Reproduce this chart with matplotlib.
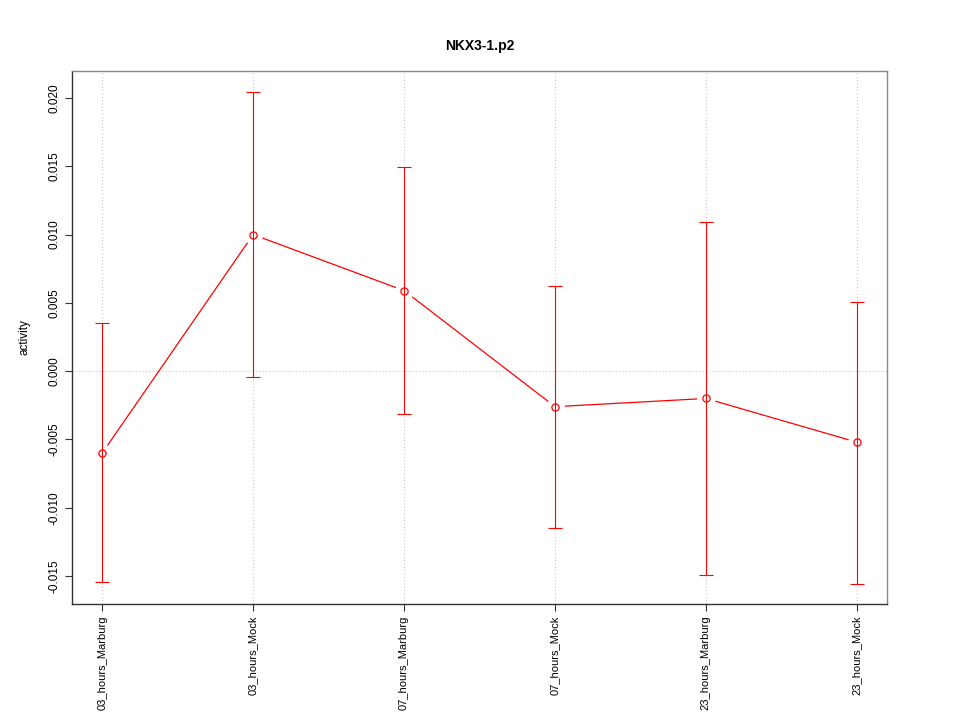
import matplotlib
matplotlib.use('Agg')
import matplotlib.pyplot as plt
import numpy as np

plt.rcParams['font.family'] = ['Liberation Sans', 'DejaVu Sans']

conditions = ['03_hours_Marburg', '03_hours_Mock', '07_hours_Marburg',
              '07_hours_Mock', '23_hours_Marburg', '23_hours_Mock']
activity = [-0.0060, 0.0100, 0.0059, -0.0026, -0.0020, -0.0052]
upper = [0.00350, 0.02045, 0.01495, 0.00623, 0.01095, 0.00505]
lower = [-0.01543, -0.00043, -0.00314, -0.01149, -0.01490, -0.01559]
yticks = [-0.015, -0.010, -0.005, 0.000, 0.005, 0.010, 0.015, 0.020]

x = np.arange(1, len(conditions) + 1)
act = np.array(activity)
err = [act - np.array(lower), np.array(upper) - act]

fig = plt.figure(figsize=(9.6, 7.2), dpi=100)
ax = fig.add_axes([0.075, 0.1611, 0.849, 0.7403])

# grid: vertical at each condition, horizontal at zero
for xi in x:
    ax.axvline(xi, color='#c8c8c8', lw=0.8, ls=(0, (1, 2)), zorder=0)
ax.axhline(0, color='#c8c8c8', lw=0.8, ls=(0, (1, 2)), zorder=0)

# line with gaps at the points (R type = "b")
ax.plot(x, act, color='red', lw=0.9, zorder=2)
ax.plot(x, act, 'o', ms=13.5, mfc='white', mec='none', zorder=3)
ax.plot(x, act, 'o', ms=5.2, mfc='none', mec='red', mew=0.9, zorder=4)
ax.errorbar(x, act, yerr=err, fmt='none', ecolor='red', elinewidth=0.8,
            capsize=5.3, capthick=0.8, zorder=5)

ax.set_xlim(0.8, 6.2)
ax.set_ylim(-0.01705, 0.02198)
ax.set_xticks(x)
ax.set_xticklabels(conditions, rotation=90, fontsize=8)
ax.set_yticks(yticks)
ax.set_yticklabels(['%.3f' % v for v in yticks], rotation=90, va='center', fontsize=8.5)
ax.tick_params(length=5, color='#333333', width=0.8)
for side in ['top', 'right']:
    ax.spines[side].set_color('#888888')
for side in ['left', 'bottom']:
    ax.spines[side].set_color('#333333')
for s in ax.spines.values():
    s.set_linewidth(1.0)

ax.set_ylabel('activity', fontsize=8.5, labelpad=13)
ax.set_title('NKX3-1.p2', fontsize=10, fontweight='bold', pad=15)

fig.savefig('out.png', dpi=100)
